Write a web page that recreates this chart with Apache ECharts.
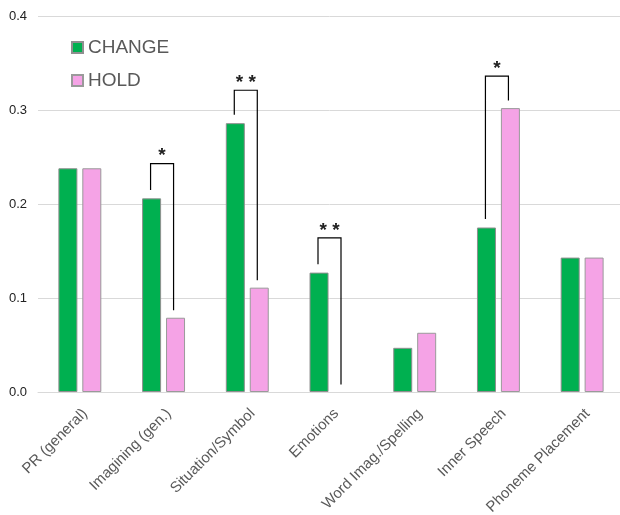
<!DOCTYPE html>
<html>
<head>
<meta charset="utf-8">
<script src="https://cdn.jsdelivr.net/npm/echarts@6/dist/echarts.min.js"></script>
<style>
  html, body { margin: 0; padding: 0; background: #fff; }
  #chart { width: 620px; height: 515px; }
</style>
</head>
<body>
<div id="chart"></div>
<script>
// categories + values
const categories = ['PR (general)', 'Imagining (gen.)', 'Situation/Symbol', 'Emotions', 'Word Imag./Spelling', 'Inner Speech', 'Phoneme Placement'];
const changeVals = [0.238, 0.206, 0.286, 0.127, 0.047, 0.175, 0.143];
const holdVals = [0.238, 0.079, 0.111, 0.0, 0.063, 0.302, 0.143];

// significance brackets
const sigCats = [1, 2, 3, 5];
const sigTops = [0.243, 0.321, 0.164, 0.336];
const sigMarks = ['*', '**', '**', '*'];

const yTicks = [0, 0.1, 0.2, 0.3, 0.4];

const font = '"Liberation Sans", Arial, sans-serif';

const brackets = sigCats.map((c, i) => [c, changeVals[c] + 0.009, sigTops[i], holdVals[c] + 0.008, sigMarks[i]]);

// zero-height bars draw nothing in the original (no border line)
const barData = vals => vals.map(v => v === 0 ? { value: v, itemStyle: { borderWidth: 0 } } : v);

const chart = echarts.init(document.getElementById('chart'));

chart.setOption({
  animation: false,
  textStyle: { fontFamily: font },
  grid: { left: 38, right: -4, top: 16, bottom: 123, containLabel: false, outerBoundsMode: 'none' },
  legend: {
    data: ['CHANGE', 'HOLD'],
    orient: 'vertical',
    left: 66,
    top: 33,
    itemWidth: 11,
    itemHeight: 11,
    itemGap: 14,
    icon: 'rect',
    textStyle: { fontSize: 19, color: '#595959', fontFamily: font }
  },
  xAxis: {
    type: 'category',
    data: categories,
    axisTick: { show: false },
    axisLine: { lineStyle: { color: '#d9d9d9', width: 1 } },
    axisLabel: { rotate: 45, fontSize: 15, color: '#595959', margin: 14, interval: 0, verticalAlign: 'top', hideOverlap: false }
  },
  yAxis: {
    type: 'value',
    min: yTicks[0],
    max: yTicks[yTicks.length - 1],
    interval: 0.1,
    axisLine: { show: false },
    axisTick: { show: false },
    axisLabel: { fontSize: 13, color: '#222', margin: 11, formatter: v => v.toFixed(1) },
    splitLine: { lineStyle: { color: '#d9d9d9', width: 1 } }
  },
  series: [
    {
      name: 'CHANGE',
      type: 'bar',
      data: barData(changeVals),
      barWidth: 19,
      barGap: '26%',
      itemStyle: { color: '#00b050', borderColor: '#8f8f8f', borderWidth: 1 }
    },
    {
      name: 'HOLD',
      type: 'bar',
      data: barData(holdVals),
      barWidth: 19,
      barGap: '26%',
      itemStyle: { color: '#f5a3e6', borderColor: '#9a9a9a', borderWidth: 1 }
    },
    {
      type: 'custom',
      data: brackets,
      silent: true,
      z: 5,
      renderItem: (params, api) => {
        const c = api.value(0);
        const l = api.coord([c, api.value(1)]);
        const t = api.coord([c, api.value(2)]);
        const r = api.coord([c, api.value(3)]);
        const xl = t[0] - 13, xr = t[0] + 10;
        return {
          type: 'group',
          children: [
            {
              type: 'polyline',
              shape: { points: [[xl, l[1]], [xl, t[1]], [xr, t[1]], [xr, r[1]]] },
              style: { stroke: '#000', lineWidth: 1.2, fill: null }
            },
            {
              type: 'text',
              x: (xl + xr) / 2,
              y: t[1] + 2,
              style: {
                text: brackets[params.dataIndex][4].split('').join(' '),
                font: 'bold 19px ' + font,
                fill: '#222',
                align: 'center',
                verticalAlign: 'bottom'
              }
            }
          ]
        };
      }
    }
  ]
});
</script>
</body>
</html>
